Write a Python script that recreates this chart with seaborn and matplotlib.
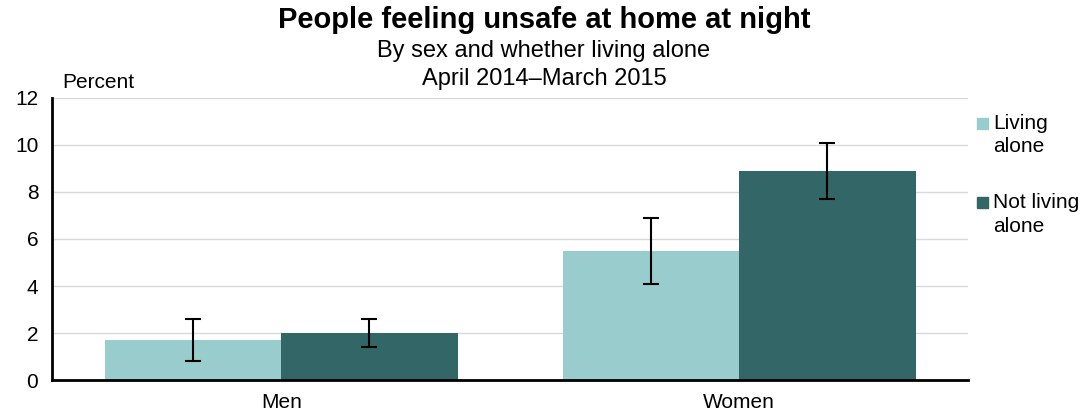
import numpy as np
import pandas as pd
import matplotlib
matplotlib.use('Agg')
import matplotlib.pyplot as plt
from matplotlib.patches import Rectangle
import seaborn as sns

# Data
sexes = ['Men', 'Women']
groups = ['Living\nalone', 'Not living\nalone']
living_alone = [1.7, 5.5]
not_living_alone = [2.0, 8.9]
living_alone_lo = [0.8, 4.1]
living_alone_hi = [2.6, 6.9]
not_living_alone_lo = [1.4, 7.7]
not_living_alone_hi = [2.6, 10.1]

colors = ['#99CCCC', '#336666']

df = pd.DataFrame({
    'sex': sexes * 2,
    'group': [groups[0]] * 2 + [groups[1]] * 2,
    'value': living_alone + not_living_alone,
    'lo': living_alone_lo + not_living_alone_lo,
    'hi': living_alone_hi + not_living_alone_hi,
})

sns.set_theme(style='white')
plt.rcParams['font.family'] = ['Liberation Sans', 'DejaVu Sans']
plt.rcParams['text.color'] = 'black'
plt.rcParams['xtick.color'] = 'black'
plt.rcParams['ytick.color'] = 'black'

fig = plt.figure(figsize=(10.88, 4.16), dpi=100)
ax = fig.add_axes([0.048, 0.0865, 0.842, 0.678])

sns.barplot(data=df, x='sex', y='value', hue='group', order=sexes,
            hue_order=groups, palette=colors, width=0.77, saturation=1,
            errorbar=None, linewidth=0, ax=ax, legend=False)

# error bars at the centre of each bar
for patch, (_, row) in zip(ax.patches, df.iterrows()):
    xc = patch.get_x() + patch.get_width() / 2
    ax.errorbar(xc, row['value'],
                yerr=[[row['value'] - row['lo']], [row['hi'] - row['value']]],
                fmt='none', ecolor='black', elinewidth=1.5, capsize=6, capthick=1.5)

ax.set_ylim(0, 12)
ax.set_xlim(-0.5, 1.5)
ax.set_yticks(range(0, 13, 2))
ax.yaxis.grid(True, color='#D9D9D9', linewidth=1)
ax.set_axisbelow(True)
ax.set_xlabel('')
ax.set_ylabel('')
ax.tick_params(axis='both', labelsize=15, length=0, pad=10)
ax.tick_params(axis='x', pad=9)
for s in ['top', 'right']:
    ax.spines[s].set_visible(False)
for s in ['left', 'bottom']:
    ax.spines[s].set_color('black')
    ax.spines[s].set_linewidth(2)

# legend: square aligned with first line of each wrapped label
leg_tops = [123, 202]
for lab, col, ytop in zip(groups, colors, leg_tops):
    yf = 1 - ytop / 416
    fig.patches.append(Rectangle((977 / 1088, yf - 5.5 / 416), 11 / 1088, 11 / 416,
                                 transform=fig.transFigure, color=col))
    fig.text(993 / 1088, yf + 9 / 416, lab, ha='left', va='top',
             fontsize=15, linespacing=1.3)

fig.text(0.5, 1 - 20 / 416, 'People feeling unsafe at home at night', ha='center',
         va='center', fontsize=21, fontweight='bold')
fig.text(0.5, 1 - 51 / 416, 'By sex and whether living alone', ha='center',
         va='center', fontsize=17)
fig.text(0.5, 1 - 79 / 416, 'April 2014\u2013March 2015', ha='center',
         va='center', fontsize=17)
fig.text(62 / 1088, 1 - 83 / 416, 'Percent', ha='left', va='center', fontsize=15)

fig.savefig('out.png', dpi=100)
